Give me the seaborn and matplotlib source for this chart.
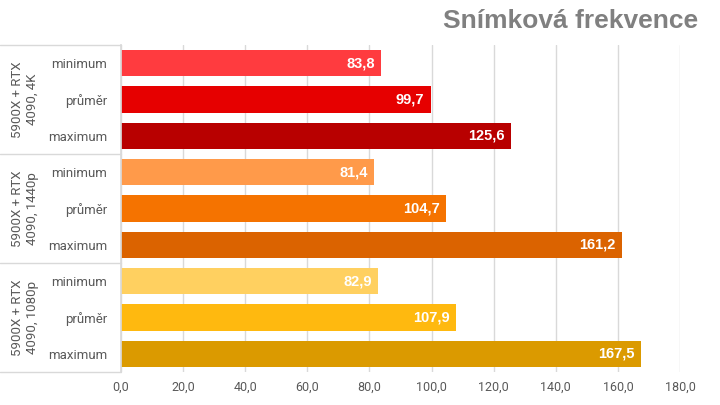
import pandas as pd
import matplotlib
matplotlib.use("Agg")
import matplotlib.pyplot as plt
import matplotlib.transforms as mtransforms
import seaborn as sns

groups = ["5900X + RTX\n4090, 4K", "5900X + RTX\n4090, 1440p", "5900X + RTX\n4090, 1080p"]
stats = ["minimum", "průměr", "maximum"]
fps_4k = [83.8, 99.7, 125.6]
fps_1440 = [81.4, 104.7, 161.2]
fps_1080 = [82.9, 107.9, 167.5]
colors = ["#FF3B3F", "#E60000", "#B80000",
          "#FF9A4A", "#F57300", "#DB6300",
          "#FFD060", "#FFB90F", "#DB9A00"]
xticks = [0, 20, 40, 60, 80, 100, 120, 140, 160, 180]

rows = []
for g, vals in zip(groups, [fps_4k, fps_1440, fps_1080]):
    for s, v in zip(stats, vals):
        rows.append({"row": f"{g}|{s}", "group": g, "stat": s, "fps": v})
df = pd.DataFrame(rows)

sns.set_theme(style="white")
plt.rcParams["font.family"] = ["Roboto", "DejaVu Sans"]

fig = plt.figure(figsize=(7.2, 4.05), dpi=100)
ax = fig.add_axes([121 / 720, 1 - 372 / 405, 559 / 720, 327 / 405])

sns.barplot(data=df, x="fps", y="row", hue="row", palette=colors,
            legend=False, width=0.72, ax=ax, saturation=1, linewidth=0)

ax.set_xlim(0, 180)
ax.set_ylim(len(df) - 0.5, -0.5)
ax.set_xticks(xticks)
ax.set_xticklabels([f"{t:.1f}".replace(".", ",") for t in xticks],
                   color="#595959", fontsize=9)
ax.set_yticks(range(len(df)))
ax.set_yticklabels(df["stat"], color="#595959", fontsize=9.5)
ax.tick_params(axis="both", length=0)
ax.tick_params(axis="y", pad=10)
ax.tick_params(axis="x", pad=6)
ax.set_xlabel("")
ax.set_ylabel("")
ax.set_axisbelow(True)
ax.xaxis.grid(True, color="#D9D9D9", linewidth=1)
for side in ["top", "right", "bottom"]:
    ax.spines[side].set_visible(False)
ax.spines["left"].set_color("#D9D9D9")

# value labels inside bars
for p, v in zip(ax.patches, df["fps"]):
    ax.text(p.get_width() - 2, p.get_y() + p.get_height() / 2,
            f"{v:.1f}".replace(".", ","), ha="right", va="center",
            color="white", fontsize=10.5, fontweight="bold",
            family=["Liberation Sans", "DejaVu Sans"])

# group separators and labels on the left
trans = mtransforms.blended_transform_factory(ax.transAxes, ax.transData)
for i, g in enumerate(groups):
    top = i * 3 - 0.5
    ax.plot([-0.216, 0], [top, top], transform=trans, color="#D9D9D9",
            linewidth=1, clip_on=False)
    ax.text(-0.172, i * 3 + 1, g, transform=trans, rotation=90,
            ha="center", va="center", multialignment="center",
            fontsize=9.5, color="#595959", linespacing=1.15)
ax.plot([-0.216, 0], [len(df) - 0.5, len(df) - 0.5], transform=trans,
        color="#D9D9D9", linewidth=1, clip_on=False)

fig.text(698 / 720, 1 - 21 / 405, "Snímková frekvence", ha="right",
         va="center", fontsize=19, fontweight="bold", color="#808080",
         family=["Liberation Sans", "DejaVu Sans"])

fig.savefig("out.png", dpi=100)
